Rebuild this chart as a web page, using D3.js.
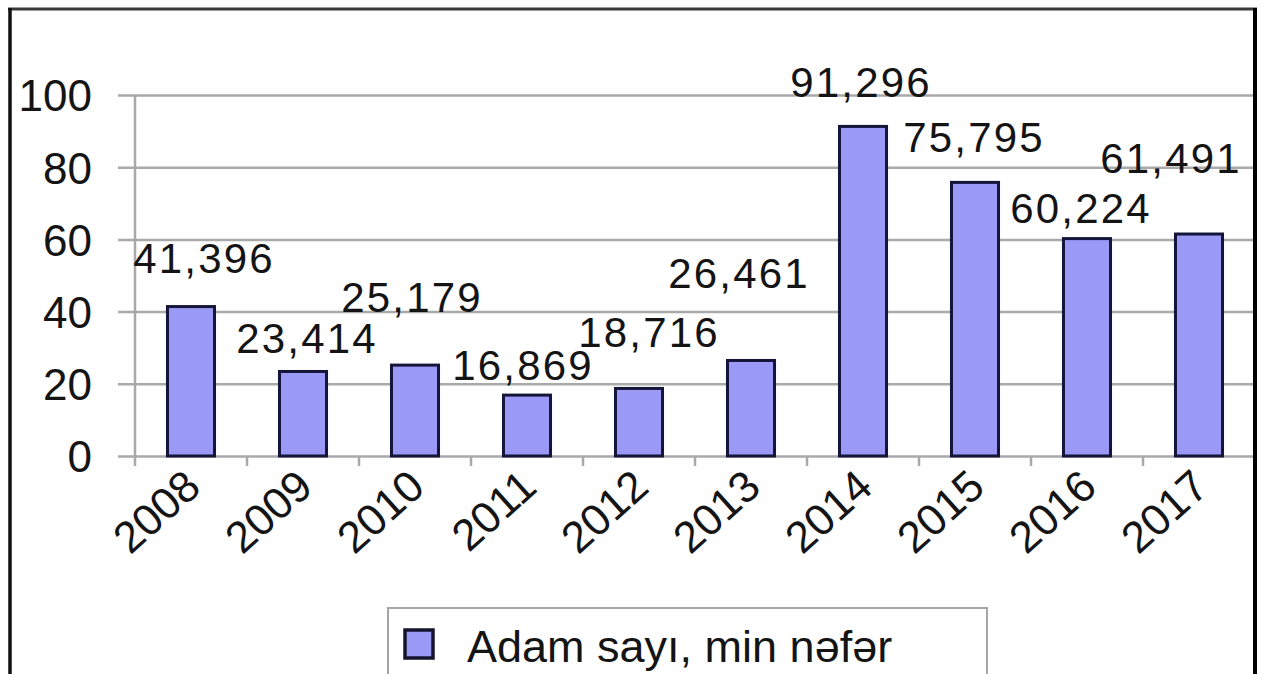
<!DOCTYPE html>
<html>
<head>
<meta charset="utf-8">
<script src="https://cdn.jsdelivr.net/npm/d3@7/dist/d3.min.js"></script>
<style>
  html, body { margin: 0; padding: 0; background: #fff; }
  svg { display: block; font-family: "Liberation Sans", Arial, sans-serif; }
</style>
</head>
<body>
<svg id="chart" width="1261" height="674"></svg>
<script>
// Data
const years = ["2008", "2009", "2010", "2011", "2012", "2013", "2014", "2015", "2016", "2017"];
const people = [41.396, 23.414, 25.179, 16.869, 18.716, 26.461, 91.296, 75.795, 60.224, 61.491];
const valueLabels = ["41,396", "23,414", "25,179", "16,869", "18,716", "26,461", "91,296", "75,795", "60,224", "61,491"];
const yTicks = [0, 20, 40, 60, 80, 100];
const seriesName = "Adam sayı, min nəfər";

// Hand-placed label nudges [dx from bar centre, dy from bar top]
const labelNudge = [[13, -34], [4, -18], [-3, -53], [-4, -15], [10, -41],
                    [-12, -72], [-2, -29], [-1, -30], [-6, -16], [-28, -61]];

const svg = d3.select("#chart");
const W = 1261, H = 674;
const plot = { left: 135, right: 1255, top: 95, bottom: 456 };

const barFill = "#9a9af6";
const barStroke = "#15153a";
const gridColor = "#a9a9a9";
const textColor = "#141414";

// Scales
const xBand = d3.scaleBand().domain(years).range([plot.left, plot.right]).padding(0);
const barW = xBand.bandwidth() * 0.42;
const y = d3.scaleLinear().domain([0, 100]).range([plot.bottom, plot.top]);

// Frame
svg.append("rect").attr("width", W).attr("height", H).attr("fill", "#fff");

// Y axis with full-width gridlines
const yAxis = svg.append("g")
  .attr("transform", `translate(${plot.left},0)`)
  .call(d3.axisLeft(y).tickValues(yTicks).tickSizeInner(-(1253 - plot.left)).tickSizeOuter(0).tickPadding(43));
yAxis.select(".domain").remove();
yAxis.selectAll(".tick line")
  .attr("x1", -17)
  .attr("stroke", gridColor)
  .attr("stroke-width", 2.5);
yAxis.selectAll(".tick text")
  .attr("fill", textColor)
  .attr("font-size", 44)
  .attr("font-family", "Liberation Sans, Arial, sans-serif")
  .attr("dy", "0.36em");

// Vertical axis line
svg.append("line")
  .attr("x1", plot.left).attr("x2", plot.left)
  .attr("y1", y(100)).attr("y2", plot.bottom + 10)
  .attr("stroke", gridColor).attr("stroke-width", 2.5);

// Category tick marks between bars
svg.append("g").selectAll("line")
  .data(years.slice(1))
  .join("line")
  .attr("x1", d => xBand(d)).attr("x2", d => xBand(d))
  .attr("y1", plot.bottom).attr("y2", plot.bottom + 10)
  .attr("stroke", gridColor).attr("stroke-width", 2.5);

// Bars
svg.append("g").selectAll("rect")
  .data(people)
  .join("rect")
  .attr("x", (d, i) => xBand(years[i]) + (xBand.bandwidth() - barW) / 2)
  .attr("y", d => y(d))
  .attr("width", barW)
  .attr("height", d => y(0) - y(d))
  .attr("fill", barFill)
  .attr("stroke", barStroke)
  .attr("stroke-width", 3);

// Value labels
svg.append("g").selectAll("text")
  .data(people)
  .join("text")
  .attr("x", (d, i) => xBand(years[i]) + xBand.bandwidth() / 2 + labelNudge[i][0])
  .attr("y", (d, i) => y(d) + labelNudge[i][1])
  .attr("text-anchor", "middle")
  .attr("font-size", 42)
  .attr("letter-spacing", 2.2)
  .attr("fill", textColor)
  .text((d, i) => valueLabels[i]);

// Rotated year labels
svg.append("g").selectAll("text")
  .data(years)
  .join("text")
  .attr("transform", d => `translate(${xBand(d) + xBand.bandwidth() / 2 + 12},${plot.bottom + 34}) rotate(-42)`)
  .attr("text-anchor", "end")
  .attr("font-size", 44)
  .attr("fill", textColor)
  .text(d => d);

// Legend
const legend = svg.append("g");
legend.append("rect")
  .attr("x", 388).attr("y", 608).attr("width", 599).attr("height", 90)
  .attr("fill", "#fff").attr("stroke", "#a5a5a5").attr("stroke-width", 2);
legend.append("rect")
  .attr("x", 405).attr("y", 630).attr("width", 28).attr("height", 28)
  .attr("fill", barFill).attr("stroke", "#14142e").attr("stroke-width", 3.5);
legend.append("text")
  .attr("x", 467).attr("y", 662)
  .attr("font-size", 45)
  .attr("fill", textColor)
  .text(seriesName);

// Outer border (top, left, right)
svg.append("line").attr("x1", 8).attr("x2", 1257).attr("y1", 9).attr("y2", 9)
  .attr("stroke", "#3a3a3a").attr("stroke-width", 3);
svg.append("line").attr("x1", 10).attr("x2", 10).attr("y1", 8).attr("y2", H)
  .attr("stroke", "#111").attr("stroke-width", 3.5);
svg.append("line").attr("x1", 1255).attr("x2", 1255).attr("y1", 8).attr("y2", H)
  .attr("stroke", "#000").attr("stroke-width", 4);
</script>
</body>
</html>
